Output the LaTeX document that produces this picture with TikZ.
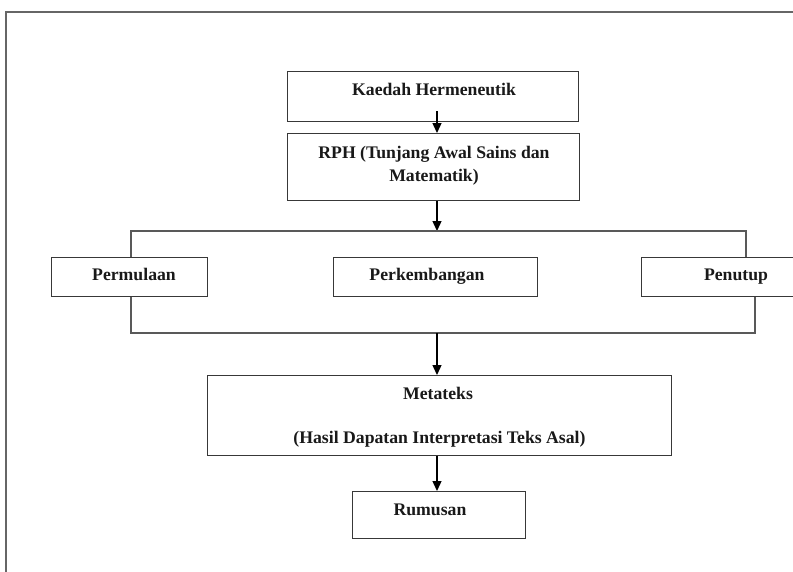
\documentclass[tikz,border=0pt]{standalone}
\usepackage{fontspec}
\setmainfont{Liberation Serif}
\usetikzlibrary{arrows.meta}
\begin{document}
\begin{tikzpicture}[x=1pt,y=-1pt,
  box/.style={draw=black!78,line width=1.3pt,anchor=north west,inner sep=0pt},
  lbl/.style={font=\bfseries\fontsize{17.7}{23}\selectfont,text=black!90,inner sep=0pt,align=center,anchor=base},
  frame/.style={draw=black!60,line width=1.5pt},
  link/.style={draw=black!65,line width=1.4pt},
  arr/.style={draw=black,line width=1.3pt,-{Triangle[width=9pt,length=10pt]}}]
\clip (0,0) rectangle (793,571);
\fill[white] (0,0) rectangle (793,571);
% outer frame
\draw[frame] (6,580) -- (6,12) -- (800,12);
% boxes
\node[box,minimum width=291pt,minimum height=50pt] (kaedah) at (287,71) {};
\node[box,minimum width=292pt,minimum height=67pt] (rph) at (287,133) {};
\node[box,minimum width=156pt,minimum height=39pt] (perm) at (51,257) {};
\node[box,minimum width=204pt,minimum height=39pt] (perk) at (333,257) {};
\node[box,minimum width=190pt,minimum height=39pt] (pen) at (641,257) {};
\node[box,minimum width=464pt,minimum height=80pt] (meta) at (207,375) {};
\node[box,minimum width=173pt,minimum height=47pt] (rum) at (352,491) {};
% labels
\node[lbl] (tk) at (434,95) {Kaedah Hermeneutik};
\node[lbl] (tr) at (434,181) {RPH (Tunjang Awal Sains dan\\Matematik)};
\node[lbl] (tpm) at (134,280) {Permulaan};
\node[lbl] (tpk) at (427,280) {Perkembangan};
\node[lbl] (tpn) at (736,280) {Penutup};
\node[lbl] (tm1) at (438,399) {Metateks};
\node[lbl] (tm2) at (439.5,443) {(Hasil Dapatan Interpretasi Teks Asal)};
\node[lbl] (tru) at (430,515) {Rumusan};
% helper coordinates
\coordinate (ax) at (437,0);
\coordinate (tl) at (131,231);
\coordinate (trr) at (746,231);
\coordinate (bl) at (131,333);
\coordinate (br) at (755,333);
\coordinate (tm) at (437,231);
\coordinate (bm) at (437,333);
% connectors
\draw[arr] ([yshift=11pt]kaedah.south -| ax) -- (rph.north -| ax);
\draw[arr] (rph.south -| ax) -- (tm);
\draw[link] (perm.north -| tl) -- (tl) -- (trr) -- (pen.north -| trr);
\draw[link] (perm.south -| bl) -- (bl) -- (br) -- (pen.south -| br);
\draw[arr] (bm) -- (meta.north -| ax);
\draw[arr] (meta.south -| ax) -- (rum.north -| ax);
\end{tikzpicture}
\end{document}
